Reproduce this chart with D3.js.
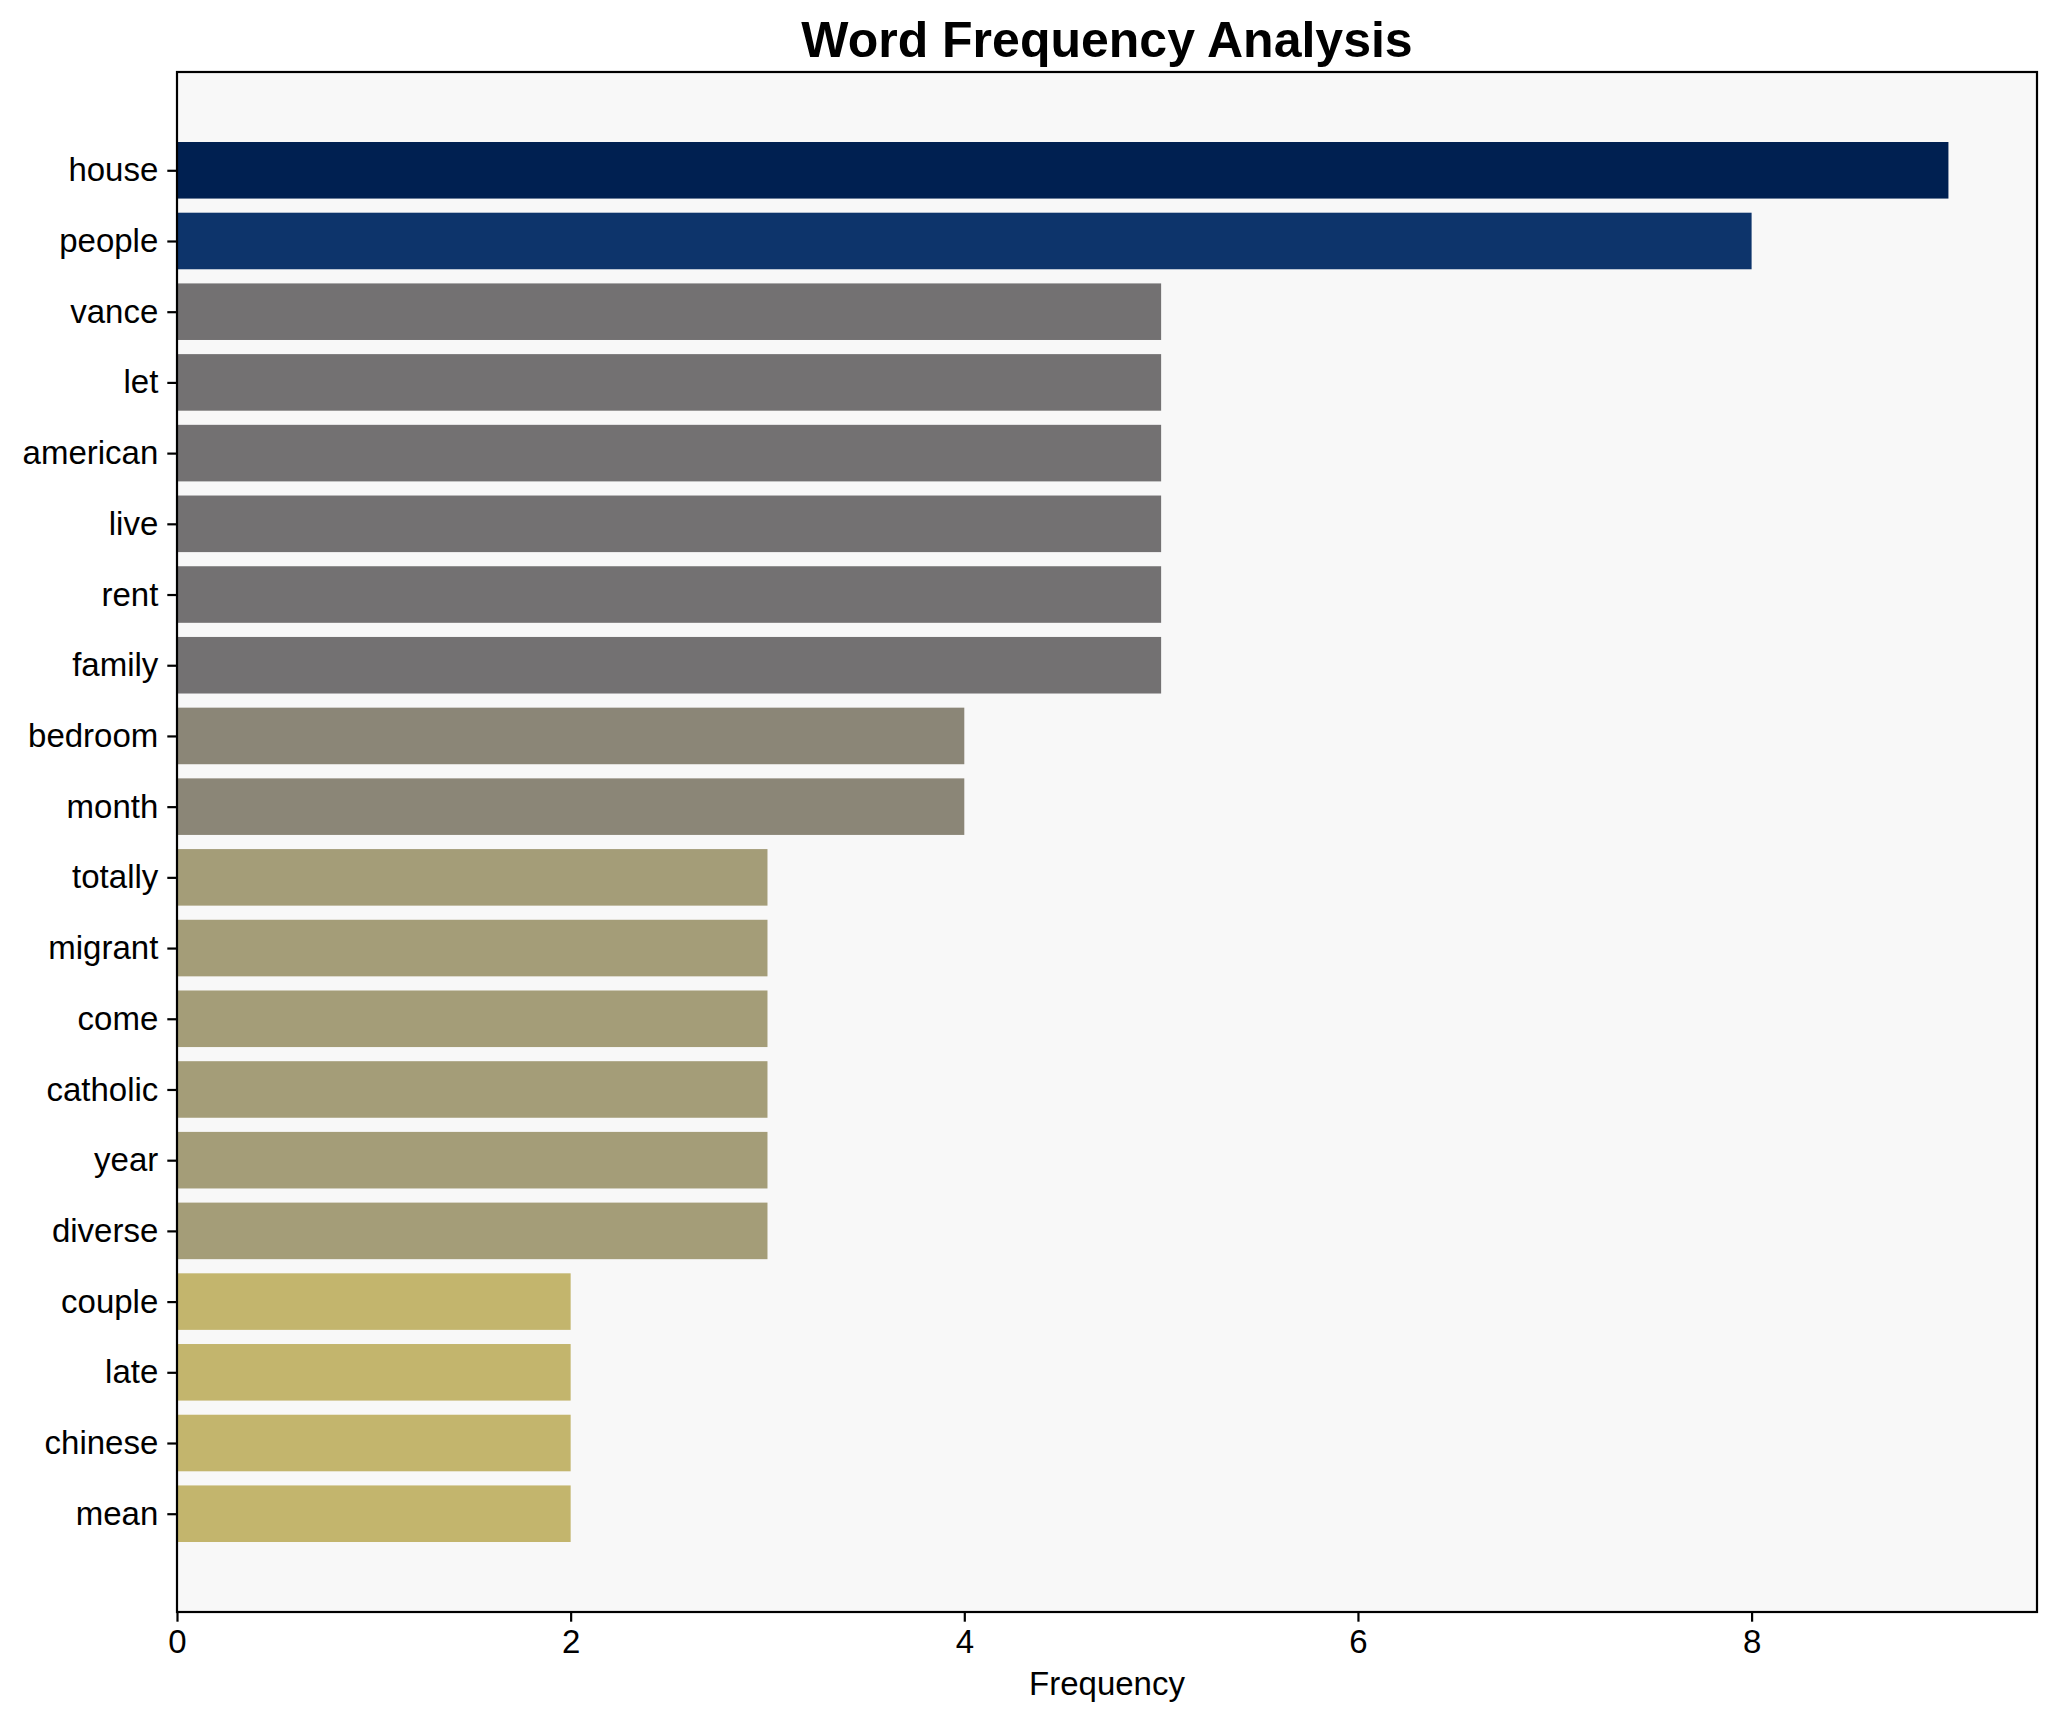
<!DOCTYPE html>
<html>
<head>
<meta charset="utf-8">
<script src="https://cdn.jsdelivr.net/npm/d3@7"></script>
<style>
  body { margin: 0; background: #fff; }
  text { font-family: "Liberation Sans", Arial, sans-serif; }
</style>
</head>
<body>
<div id="chart"></div>
<script>
// data
var words = ["house", "people", "vance", "let", "american", "live", "rent", "family",
    "bedroom", "month", "totally", "migrant", "come", "catholic", "year", "diverse",
    "couple", "late", "chinese", "mean"];
var counts = [9, 8, 5, 5, 5, 5, 5, 5, 4, 4, 3, 3, 3, 3, 3, 3, 2, 2, 2, 2];
var xTicks = [0, 2, 4, 6, 8];

// chart parameters
var svgWidth = 2056;
var svgHeight = 1722;
var margin = { top: 72, right: 19, bottom: 110, left: 177 };
var width = svgWidth - margin.left - margin.right;
var height = svgHeight - margin.top - margin.bottom;

var svg = d3.select("#chart")
    .append("svg")
    .attr("width", svgWidth)
    .attr("height", svgHeight);

var chart = svg.append("g")
    .attr("transform", `translate(${margin.left}, ${margin.top})`);

var maxCount = d3.max(counts);

// matplotlib style 5% margins
var xscale = d3.scaleLinear()
    .domain([0, maxCount * 1.05])
    .range([0, width]);

var ypad = (words.length - 1 + 0.8) * 0.05;
var yscale = d3.scaleLinear()
    .domain([-0.4 - ypad, words.length - 1 + 0.4 + ypad])
    .range([0, height]);

var color = d3.scaleSequential(d3.interpolateCividis)
    .domain([maxCount, 0]);

// axes background
chart.append("rect")
    .attr("width", width)
    .attr("height", height)
    .attr("fill", "#f8f8f8");

// bars
chart.selectAll(".bar")
    .data(words)
    .enter()
    .append("rect")
    .attr("class", "bar")
    .attr("x", xscale(0))
    .attr("y", (d, i) => yscale(i - 0.4))
    .attr("width", (d, i) => xscale(counts[i]) - xscale(0))
    .attr("height", (d, i) => yscale(i + 0.4) - yscale(i - 0.4))
    .attr("fill", (d, i) => color(counts[i]));

// axes
var bottomAxis = d3.axisBottom(xscale)
    .tickValues(xTicks)
    .tickSize(9.7)
    .tickPadding(8)
    .tickFormat(d3.format("d"));
var leftAxis = d3.axisLeft(yscale)
    .tickValues(d3.range(words.length))
    .tickSize(9.7)
    .tickPadding(9)
    .tickFormat(i => words[i]);

var gx = chart.append("g")
    .attr("transform", `translate(0, ${height})`)
    .call(bottomAxis);
var gy = chart.append("g")
    .call(leftAxis);

[gx, gy].forEach(function (g) {
    g.select(".domain").remove();
    g.selectAll(".tick line").attr("stroke", "#000").attr("stroke-width", 2.2);
    g.selectAll(".tick text")
        .style("font-size", "33px")
        .style("fill", "#000");
});

// frame
chart.append("rect")
    .attr("width", width)
    .attr("height", height)
    .attr("fill", "none")
    .attr("stroke", "#000")
    .attr("stroke-width", 2.2);

// title and label
svg.append("text")
    .attr("x", margin.left + width / 2)
    .attr("y", 57)
    .style("font-size", "50px")
    .style("font-weight", "bold")
    .style("text-anchor", "middle")
    .text("Word Frequency Analysis");

svg.append("text")
    .attr("x", margin.left + width / 2)
    .attr("y", 1695)
    .style("font-size", "33px")
    .style("text-anchor", "middle")
    .text("Frequency");
</script>
</body>
</html>
